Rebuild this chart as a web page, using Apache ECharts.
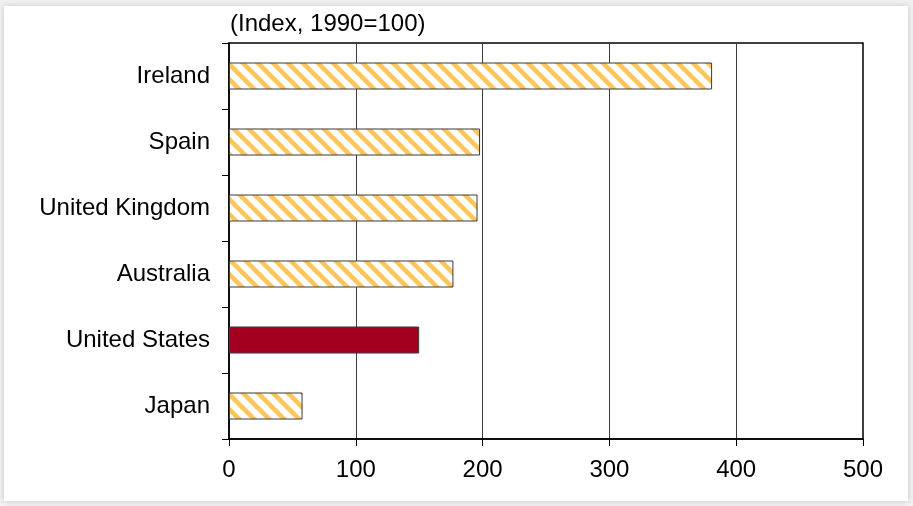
<!DOCTYPE html>
<html>
<head>
<meta charset="utf-8">
<script src="https://cdn.jsdelivr.net/npm/echarts@6/dist/echarts.min.js"></script>
<style>
  html, body { margin: 0; padding: 0; background: #f1f1f1; }
  #chart { width: 913px; height: 506px; }
</style>
</head>
<body>
<div id="chart"></div>
<script>
// House price index by country
const countries = ['Ireland', 'Spain', 'United Kingdom', 'Australia', 'United States', 'Japan'];
const indexValues = [381, 198, 196, 177, 150, 58];
const highlighted = 'United States';
const xTicks = { min: 0, max: 500, step: 100 };
const unitLabel = '(Index, 1990=100)';

// Diagonal hatch tile (orange stripes on white)
function hatchTile() {
  const s = 15;
  const c = document.createElement('canvas');
  c.width = s; c.height = s;
  const g = c.getContext('2d');
  g.fillStyle = '#ffffff';
  g.fillRect(0, 0, s, s);
  g.strokeStyle = '#fdc65c';
  g.lineWidth = 4.6;
  for (const k of [-s, 0, s]) {
    g.beginPath();
    g.moveTo(k - 2, -2);
    g.lineTo(k + s + 2, s + 2);
    g.stroke();
  }
  return c;
}
const hatch = { image: hatchTile(), repeat: 'repeat' };

const chart = echarts.init(document.getElementById('chart'));
const font = '"Liberation Sans", Arial, sans-serif';
const fontSize = 24;

chart.setOption({
  backgroundColor: '#f1f1f1',
  animation: false,
  graphic: [{
    type: 'rect',
    z: -10,
    shape: { x: 4, y: 6, width: 904, height: 495 },
    style: { fill: '#ffffff', shadowBlur: 6, shadowColor: 'rgba(0,0,0,0.18)' },
    silent: true
  }],
  title: {
    text: unitLabel,
    left: 225,
    top: 7,
    textStyle: { fontFamily: font, fontSize: fontSize, fontWeight: 'normal', color: '#000' }
  },
  grid: {
    left: 229, right: 50, top: 43, bottom: 67,
    show: true, borderColor: '#000', borderWidth: 1.5, backgroundColor: 'transparent'
  },
  xAxis: {
    type: 'value',
    min: xTicks.min, max: xTicks.max, interval: xTicks.step,
    axisLine: { show: true, lineStyle: { color: '#000', width: 1.5 } },
    axisTick: { show: true, inside: false, length: 7, lineStyle: { color: '#000' } },
    axisLabel: { margin: 19, fontFamily: font, fontSize: fontSize, color: '#000' },
    splitLine: { show: true, lineStyle: { color: '#3c3c3c', width: 1 } }
  },
  yAxis: {
    type: 'category',
    inverse: true,
    data: countries,
    axisLine: { show: true, lineStyle: { color: '#000', width: 1.5 } },
    axisTick: { show: true, inside: false, length: 7, lineStyle: { color: '#000' } },
    axisLabel: { margin: 19, fontFamily: font, fontSize: fontSize, color: '#000' },
    splitLine: { show: false }
  },
  series: [{
    type: 'bar',
    barWidth: 27,
    data: countries.map((name, i) => ({
      value: indexValues[i],
      itemStyle: {
        color: name === highlighted ? '#a3001f' : hatch,
        borderColor: '#3a3a3a',
        borderWidth: 1
      }
    }))
  }]
});
</script>
</body>
</html>
